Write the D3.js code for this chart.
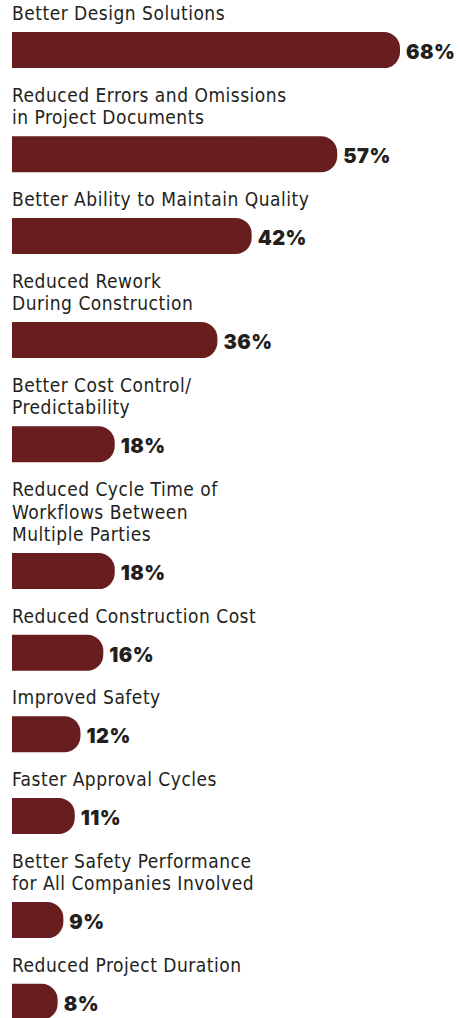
<!DOCTYPE html>
<html>
<head>
<meta charset="utf-8">
<script src="https://cdn.jsdelivr.net/npm/d3@7"></script>
<style>
  body { margin: 0; background: #fff; }
  #chart svg { display: block; }
</style>
</head>
<body>
<div id="chart"></div>
<script>
// Categories (label lines) and share of respondents, in %
const categories = [
  ["Better Design Solutions"],
  ["Reduced Errors and Omissions", "in Project Documents"],
  ["Better Ability to Maintain Quality"],
  ["Reduced Rework", "During Construction"],
  ["Better Cost Control/", "Predictability"],
  ["Reduced Cycle Time of", "Workflows Between", "Multiple Parties"],
  ["Reduced Construction Cost"],
  ["Improved Safety"],
  ["Faster Approval Cycles"],
  ["Better Safety Performance", "for All Companies Involved"],
  ["Reduced Project Duration"]
];
const values = [68, 57, 42, 36, 18, 18, 16, 12, 11, 9, 8];

const width = 460;
const height = 1018;
const left = 12;
const barH = 36;
const lineH = 22.6;
const gap = 23;
const barColor = "#681e1f";
const textColor = "#231f20";

const svg = d3.select("#chart")
  .append("svg")
  .attr("width", width)
  .attr("height", height);

// x scale: 68% -> bar ending around x=400
const x = d3.scaleLinear().domain([0, 68]).range([left, 400]);

// stack the rows: label lines then bar
let cursor = 9.5;
const rows = categories.map((lines, i) => {
  const barTop = cursor + lines.length * lineH;
  const row = { lines, value: values[i], barTop };
  cursor = barTop + barH + gap;
  return row;
});

// bar with rounded right end
function barPath(d) {
  const x0 = x(0), x1 = x(d.value), y0 = d.barTop, r = 16;
  return `M${x0},${y0}H${x1 - r}A${r},${r} 0 0 1 ${x1},${y0 + r}` +
    `V${y0 + barH - r}A${r},${r} 0 0 1 ${x1 - r},${y0 + barH}H${x0}Z`;
}

const g = svg.selectAll("g.row")
  .data(rows)
  .enter()
  .append("g")
  .attr("class", "row");

g.append("path")
  .attr("d", barPath)
  .style("fill", barColor);

g.each(function (d) {
  const t = d3.select(this).append("text")
    .attr("font-family", "'DejaVu Sans Condensed', 'Roboto Condensed', sans-serif")
    .attr("font-size", 19)
    .attr("letter-spacing", 0.5)
    .style("fill", textColor);
  d.lines.forEach((line, j) => {
    t.append("tspan")
      .attr("x", left)
      .attr("y", d.barTop - 12 - (d.lines.length - 1 - j) * lineH)
      .text(line);
  });
});

g.append("text")
  .attr("x", (d) => x(d.value) + 6)
  .attr("y", (d) => d.barTop + 27)
  .attr("font-family", "Inter, Roboto, sans-serif")
  .attr("font-weight", 900)
  .attr("font-size", 20)
  .attr("letter-spacing", 0.5)
  .style("fill", textColor)
  .text((d) => d.value + "%");
</script>
</body>
</html>
